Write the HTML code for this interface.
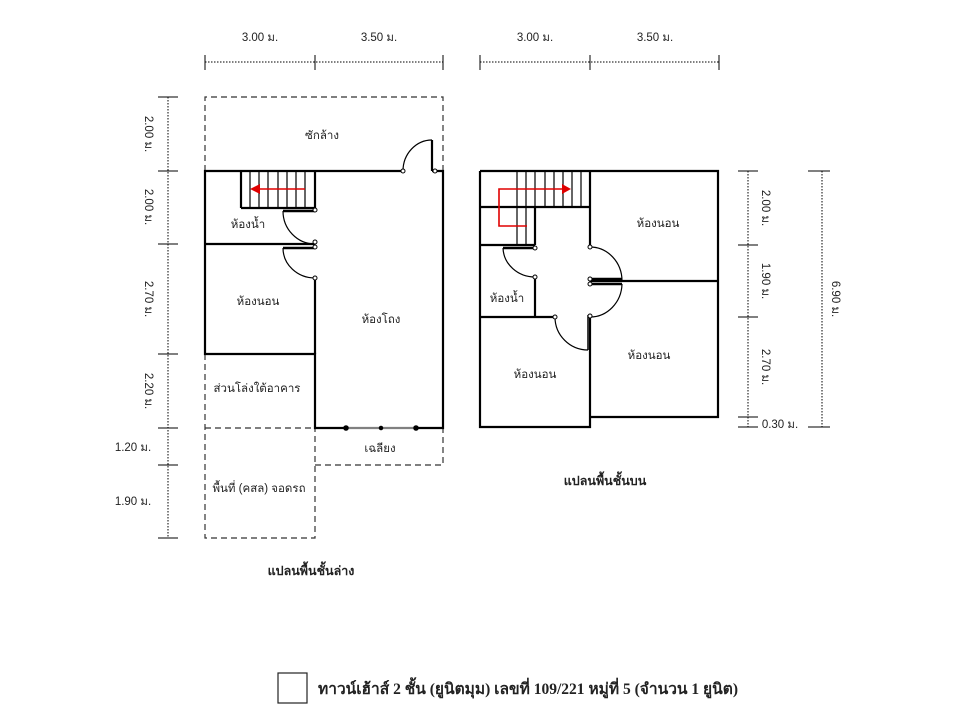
<!DOCTYPE html>
<html><head><meta charset="utf-8"><style>
html,body{margin:0;padding:0;background:#fff;width:960px;height:720px;overflow:hidden}
svg text{font-family:"Liberation Sans","Noto Sans CJK SC",sans-serif;fill:#222}
</style></head><body>
<svg width="960" height="720" viewBox="0 0 960 720" xmlns="http://www.w3.org/2000/svg">
<g fill="none" stroke="#000">
<g stroke-width="1">
<line x1="205" y1="62" x2="443" y2="62" stroke-dasharray="1.5,1.5"/>
<line x1="205" y1="55" x2="205" y2="70"/><line x1="315" y1="55" x2="315" y2="70"/><line x1="443" y1="55" x2="443" y2="70"/>
<line x1="480" y1="62" x2="719" y2="62" stroke-dasharray="1.5,1.5"/>
<line x1="480" y1="55" x2="480" y2="70"/><line x1="590" y1="55" x2="590" y2="70"/><line x1="719" y1="55" x2="719" y2="70"/>
<line x1="168" y1="97" x2="168" y2="538" stroke-dasharray="1.5,1.5"/>
<line x1="158" y1="97" x2="178" y2="97"/><line x1="158" y1="171" x2="178" y2="171"/><line x1="158" y1="244" x2="178" y2="244"/>
<line x1="158" y1="354" x2="178" y2="354"/><line x1="158" y1="428" x2="178" y2="428"/><line x1="158" y1="465" x2="178" y2="465"/><line x1="158" y1="538" x2="178" y2="538"/>
<line x1="748" y1="171" x2="748" y2="427" stroke-dasharray="1.5,1.5"/>
<line x1="738" y1="171" x2="758" y2="171"/><line x1="738" y1="245" x2="758" y2="245"/><line x1="738" y1="317" x2="758" y2="317"/>
<line x1="738" y1="417" x2="758" y2="417"/><line x1="738" y1="427" x2="758" y2="427"/>
<line x1="822" y1="171" x2="822" y2="427" stroke-dasharray="1.5,1.5"/>
<line x1="808" y1="171" x2="830" y2="171"/><line x1="808" y1="427" x2="830" y2="427"/>
</g>
<g stroke-width="1.2" stroke-dasharray="6,4" stroke="#333">
<polyline points="205,171 205,97 443,97 443,171"/>
<polyline points="205,354 205,538 315,538 315,428"/>
<line x1="205" y1="428" x2="315" y2="428"/>
<polyline points="315,465 443,465 443,428"/>
</g>
<g stroke-width="2.2">
<polyline points="403,171 205,171 205,354 315,354 315,428 443,428 443,171 432,171"/>
<line x1="205" y1="244" x2="315" y2="244"/>
<line x1="315" y1="278" x2="315" y2="354"/>
<line x1="241" y1="171" x2="241" y2="208"/>
<line x1="241" y1="208" x2="315" y2="208"/>
<line x1="315" y1="171" x2="315" y2="210"/>
<line x1="432" y1="140" x2="432" y2="171"/>
</g>
<g stroke-width="1.2">
<line x1="250" y1="171" x2="250" y2="208"/><line x1="259" y1="171" x2="259" y2="208"/><line x1="268" y1="171" x2="268" y2="208"/>
<line x1="278" y1="171" x2="278" y2="208"/><line x1="287" y1="171" x2="287" y2="208"/><line x1="296" y1="171" x2="296" y2="208"/><line x1="305" y1="171" x2="305" y2="208"/>
<path d="M403,171 A29,31 0 0 1 432,140"/>
<path d="M283,211 A32,33 0 0 0 315,244"/>
<path d="M283,248 A32,30 0 0 0 315,278"/>
<line x1="283" y1="211" x2="315" y2="211" stroke-width="2.5"/>
<line x1="283" y1="248" x2="315" y2="248" stroke-width="2.5"/>
<line x1="345" y1="428" x2="417" y2="428" stroke="#fff" stroke-width="2.5"/>
<line x1="345" y1="428" x2="417" y2="428" stroke-width="1"/>
</g>
<g fill="#fff" stroke-width="1">
<circle cx="403" cy="171" r="2"/><circle cx="435" cy="171" r="2"/><circle cx="315" cy="210" r="2"/>
<circle cx="315" cy="242" r="2"/><circle cx="315" cy="247" r="2"/><circle cx="315" cy="278" r="2"/>
</g>
<g fill="#000"><circle cx="346" cy="428" r="2.3"/><circle cx="381" cy="428" r="1.8"/><circle cx="416" cy="428" r="2.3"/></g>
<g stroke-width="2.2">
<polyline points="480,171 718,171 718,417 590,417"/>
<polyline points="480,171 480,427 590,427 590,317"/>
<line x1="590" y1="171" x2="590" y2="247"/>
<line x1="480" y1="207" x2="590" y2="207"/>
<line x1="480" y1="245" x2="535" y2="245"/>
<line x1="535" y1="207" x2="535" y2="245"/>
<line x1="535" y1="277" x2="535" y2="317"/>
<line x1="480" y1="317" x2="555" y2="317"/>
<line x1="590" y1="281" x2="718" y2="281"/>
<line x1="588" y1="315" x2="588" y2="350" stroke-width="1.5"/>
</g>
<g stroke-width="1.2">
<line x1="517" y1="171" x2="517" y2="245"/><line x1="526" y1="171" x2="526" y2="245"/>
<line x1="535" y1="171" x2="535" y2="207"/><line x1="545" y1="171" x2="545" y2="207"/><line x1="554" y1="171" x2="554" y2="207"/>
<line x1="563" y1="171" x2="563" y2="207"/><line x1="572" y1="171" x2="572" y2="207"/><line x1="581" y1="171" x2="581" y2="207"/>
<path d="M503,248 A32,30 0 0 0 535,277"/>
<line x1="503" y1="248" x2="533" y2="248" stroke-width="2.5"/>
<path d="M590,247 A32,34 0 0 1 622,281"/>
<path d="M622,284 A32,34 0 0 1 590,317"/>
<line x1="592" y1="279" x2="622" y2="279" stroke-width="2.5"/>
<line x1="592" y1="284" x2="622" y2="284" stroke-width="2.5"/>
<path d="M555,317 A33,33 0 0 0 588,350"/>
</g>
<g fill="#fff" stroke-width="1">
<circle cx="535" cy="248" r="2"/><circle cx="535" cy="277" r="2"/><circle cx="590" cy="247" r="2"/>
<circle cx="590" cy="279" r="2"/><circle cx="590" cy="284" r="2"/><circle cx="590" cy="316" r="2"/><circle cx="555" cy="317" r="2"/>
</g>
</g>
<g stroke="#e00000" stroke-width="1.6" fill="none">
<line x1="305" y1="189" x2="258" y2="189"/>
<polyline points="527,226 499,226 499,189 563,189"/>
</g>
<polygon points="250,189 260,184 260,194" fill="#e00000"/>
<polygon points="571,189 562,184 562,194" fill="#e00000"/>
<g font-size="11.5" text-anchor="middle">
<text x="260" y="41">3.00 ม.</text><text x="379" y="41">3.50 ม.</text>
<text x="535" y="41">3.00 ม.</text><text x="655" y="41">3.50 ม.</text>
<text transform="translate(145,134) rotate(90)">2.00 ม.</text>
<text transform="translate(145,207) rotate(90)">2.00 ม.</text>
<text transform="translate(145,299) rotate(90)">2.70 ม.</text>
<text transform="translate(145,391) rotate(90)">2.20 ม.</text>
<text x="133" y="451">1.20 ม.</text>
<text x="133" y="505">1.90 ม.</text>
<text transform="translate(762,208) rotate(90)">2.00 ม.</text>
<text transform="translate(762,281) rotate(90)">1.90 ม.</text>
<text transform="translate(762,367) rotate(90)">2.70 ม.</text>
<text x="780" y="428">0.30 ม.</text>
<text transform="translate(832,299) rotate(90)">6.90 ม.</text>
<text x="322" y="139">ซักล้าง</text>
<text x="248" y="228">ห้องน้ำ</text>
<text x="258" y="305">ห้องนอน</text>
<text x="381" y="323">ห้องโถง</text>
<text x="257" y="392">ส่วนโล่งใต้อาคาร</text>
<text x="380" y="452">เฉลียง</text>
<text x="259" y="492">พื้นที่ (คสล) จอดรถ</text>
<text x="658" y="227">ห้องนอน</text>
<text x="507" y="302">ห้องน้ำ</text>
<text x="649" y="359">ห้องนอน</text>
<text x="535" y="378">ห้องนอน</text>
</g>
<g font-size="12.5" font-weight="bold" text-anchor="middle">
<text x="311" y="575">แปลนพื้นชั้นล่าง</text>
<text x="605" y="485">แปลนพื้นชั้นบน</text>
</g>
<rect x="278" y="673" width="29" height="30" fill="none" stroke="#222" stroke-width="1.2"/>
<text x="318" y="694" font-size="15.5" font-weight="bold" textLength="420" lengthAdjust="spacingAndGlyphs" style="font-family:'Liberation Serif','Noto Serif CJK SC',serif">ทาวน์เฮ้าส์ 2 ชั้น (ยูนิตมุม)  เลขที่ 109/221 หมู่ที่ 5 (จำนวน 1 ยูนิต)</text>
</svg>
</body></html>
